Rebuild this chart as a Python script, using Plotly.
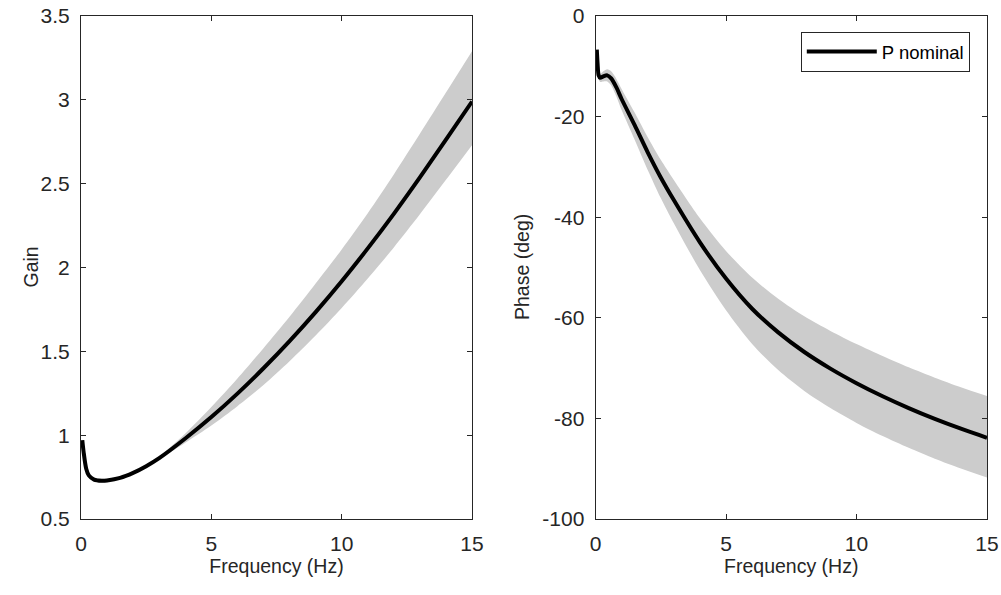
import plotly.graph_objects as go

# ---- data ----
gain_freq = [0.05, 0.1, 0.2, 0.3, 0.5, 0.8, 1.0, 1.5, 2.0, 2.5, 3.0, 4.0, 5.0, 6.0,
             7.0, 8.0, 9.0, 10.0, 11.0, 12.0, 13.0, 14.0, 15.0]
gain_nominal = [0.97, 0.90, 0.80, 0.76, 0.735, 0.728, 0.73, 0.745, 0.775, 0.815, 0.863,
                0.98, 1.108, 1.248, 1.399, 1.561, 1.734, 1.918, 2.114, 2.32, 2.537,
                2.763, 2.99]
gain_upper = [0.975, 0.908, 0.81, 0.772, 0.747, 0.74, 0.74, 0.753, 0.781, 0.821, 0.873,
              1.01, 1.168, 1.338, 1.519, 1.706, 1.904, 2.108, 2.324, 2.555, 2.797, 3.043, 3.29]
gain_lower = [0.965, 0.892, 0.79, 0.748, 0.723, 0.716, 0.72, 0.737, 0.769, 0.81, 0.855,
              0.955, 1.058, 1.173, 1.299, 1.441, 1.594, 1.758, 1.934, 2.12, 2.317, 2.523, 2.73]

phase_freq = [0.05, 0.08, 0.12, 0.18, 0.3, 0.45, 0.6, 0.8, 1.0, 1.5, 2.0, 2.5, 3.0, 4.0,
              5.0, 6.0, 7.0, 8.0, 9.0, 10.0, 11.0, 12.0, 13.0, 14.0, 15.0]
phase_nominal = [-6.7, -9.5, -11.8, -12.3, -12.0, -11.8, -12.4, -14.2, -16.5, -21.7, -27.1,
                 -32.1, -36.6, -45.0, -52.2, -58.2, -62.9, -66.8, -70.1, -73.0, -75.6,
                 -77.95, -80.1, -82.05, -83.85]
phase_upper = [-6.4, -9.0, -11.1, -11.5, -11.0, -10.6, -11.0, -12.5, -14.5, -19.2, -24.1,
               -28.6, -32.6, -40.2, -46.7, -52.0, -56.2, -59.7, -62.6, -65.2, -67.6,
               -69.85, -71.9, -73.8, -75.55]
phase_lower = [-7.0, -10.0, -12.5, -13.1, -13.0, -13.0, -13.8, -16.0, -18.7, -24.6, -30.6,
               -36.2, -41.2, -50.5, -58.5, -65.2, -70.4, -74.55, -77.95, -80.9, -83.5,
               -85.85, -88.0, -89.95, -91.75]

freq_ticks = [0, 5, 10, 15]
freq_ticktext = ["0", "5", "10", "15"]
gain_ticks = [0.5, 1.0, 1.5, 2.0, 2.5, 3.0, 3.5]
gain_ticktext = ["0.5", "1", "1.5", "2", "2.5", "3", "3.5"]
phase_ticks = [-100, -80, -60, -40, -20, 0]
phase_ticktext = ["-100", "-80", "-60", "-40", "-20", "0"]

legend_label = "P nominal"
x_title = "Frequency (Hz)"
gain_title = "Gain"
phase_title = "Phase (deg)"

# ---- style ----
FONT = "Liberation Sans, Arial, Helvetica, sans-serif"
AX = "#262626"
BAND = "#cccccc"
LINE_SHAPE = dict(shape="spline", smoothing=0.8)

fig = go.Figure()

def band(x, lo, hi, xa, ya):
    fig.add_trace(go.Scatter(x=x, y=lo, mode="lines", line=dict(width=0, color=BAND, **LINE_SHAPE),
                             showlegend=False, hoverinfo="skip", xaxis=xa, yaxis=ya))
    fig.add_trace(go.Scatter(x=x, y=hi, mode="lines", line=dict(width=0, color=BAND, **LINE_SHAPE),
                             fill="tonexty", fillcolor=BAND, showlegend=False, hoverinfo="skip",
                             xaxis=xa, yaxis=ya))

band(gain_freq, gain_lower, gain_upper, "x", "y")
fig.add_trace(go.Scatter(x=gain_freq, y=gain_nominal, mode="lines",
                         line=dict(color="black", width=4, **LINE_SHAPE),
                         showlegend=False, xaxis="x", yaxis="y"))
band(phase_freq, phase_lower, phase_upper, "x2", "y2")
fig.add_trace(go.Scatter(x=phase_freq, y=phase_nominal, mode="lines", name=legend_label,
                         line=dict(color="black", width=4, **LINE_SHAPE),
                         showlegend=True, xaxis="x2", yaxis="y2"))

common = dict(showline=True, linecolor=AX, linewidth=1, mirror="ticks", ticks="inside",
              ticklen=5, tickcolor=AX, tickwidth=1, showgrid=False, zeroline=False,
              automargin=False, tickmode="array",
              tickfont=dict(family=FONT, size=21, color=AX))
xcommon = dict(common, range=[0, 15], tickvals=freq_ticks, ticktext=freq_ticktext,
               ticklabelstandoff=6,
               title=dict(text=x_title, font=dict(family=FONT, size=19.5, color=AX), standoff=0))

fig.update_layout(
    width=1001, height=595,
    margin=dict(l=81, r=14, t=16, b=76),
    paper_bgcolor="white", plot_bgcolor="white",
    font=dict(family=FONT, color=AX),
    xaxis=dict(xcommon, domain=[0, 0.4316], anchor="y"),
    yaxis=dict(common, range=[0.5, 3.5], tickvals=gain_ticks, ticktext=gain_ticktext,
               ticklabelstandoff=6, anchor="x"),
    xaxis2=dict(xcommon, domain=[0.5679, 1.0], anchor="y2"),
    yaxis2=dict(common, range=[-100, 0], tickvals=phase_ticks, ticktext=phase_ticktext,
                ticklabelstandoff=6, anchor="x2"),
    legend=dict(x=0.981, y=0.968, xanchor="right", yanchor="top", bgcolor="white",
                bordercolor=AX, borderwidth=1, font=dict(family=FONT, size=18.5, color="black"),
                itemwidth=70, tracegroupgap=0),
    showlegend=True,
    annotations=[
        dict(text=gain_title, xref="x domain", yref="y domain", x=0, y=0.5, xshift=-51,
             xanchor="center", yanchor="middle", textangle=-90, showarrow=False,
             font=dict(family=FONT, size=19.5, color=AX)),
        dict(text=phase_title, xref="x2 domain", yref="y2 domain", x=0, y=0.5, xshift=-74,
             xanchor="center", yanchor="middle", textangle=-90, showarrow=False,
             font=dict(family=FONT, size=19.5, color=AX)),
    ],
)

fig.write_html("out.html", config={"displayModeBar": False},
               post_script="document.body.style.margin='0px';")
